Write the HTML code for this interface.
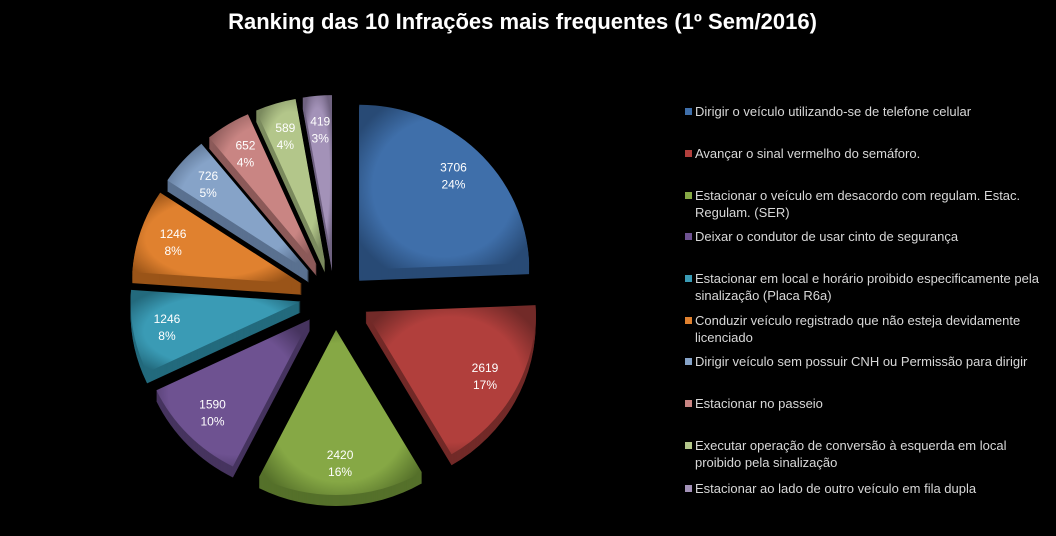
<!DOCTYPE html>
<html><head><meta charset="utf-8"><style>
body{margin:0;background:#000;width:1056px;height:536px;overflow:hidden;font-family:"Liberation Sans",sans-serif}
#title{position:absolute;left:0;width:1045px;top:9px;text-align:center;color:#fff;font-weight:bold;font-size:22px}
.leg{position:absolute;left:685px;width:360px;color:#d8d8d8;font-size:13px;line-height:17px}
.sw{position:absolute;left:0;top:5px;width:7px;height:7px}
.lt{margin-left:10px}
</style></head><body>
<div id="title">Ranking das 10 Infrações mais frequentes (1º Sem/2016)</div>
<svg id="pie" width="1056" height="536" style="position:absolute;left:0;top:0"></svg>
<div id="legend"></div>
<script>
const categories=["Dirigir o veículo utilizando-se de telefone celular","Avançar o sinal vermelho do semáforo.","Estacionar o veículo em desacordo com regulam. Estac. Regulam. (SER)","Deixar o condutor de usar cinto de segurança","Estacionar em local e horário proibido especificamente pela sinalização (Placa R6a)","Conduzir veículo registrado que não esteja devidamente licenciado","Dirigir veículo sem possuir CNH ou Permissão para dirigir","Estacionar no passeio","Executar operação de conversão à esquerda em local proibido pela sinalização","Estacionar ao lado de outro veículo em fila dupla"];
const values=[3706,2619,2420,1590,1246,1246,726,652,589,419];
const colors=["#3f6faa","#b13f3c","#86a845","#6e5291","#3a9bb5","#e0812f","#86a3c8","#c98583","#b3c68a","#a392b8"];
const dark=["#284a75","#722a28","#55702a","#46345f","#236a7d","#9a5418","#5a7190","#8c5a59","#7b8a5e","#6f6280"];
const legendY=[103,145,187,228,270,312,353,395,437,480];
const svg=document.getElementById('pie');
const NS='http://www.w3.org/2000/svg';
const cx=335,cy=295,rx=170,ry=165,ex=35,depth=11;
const total=values.reduce((a,b)=>a+b,0);
let defs=document.createElementNS(NS,'defs');svg.appendChild(defs);
colors.forEach((c,i)=>{
 const g=document.createElementNS(NS,'radialGradient');g.setAttribute('id','g'+i);
 g.setAttribute('cx','50%');g.setAttribute('cy','50%');g.setAttribute('r','60%');
 g.innerHTML=`<stop offset="0" stop-color="${c}"/><stop offset="0.7" stop-color="${c}"/><stop offset="1" stop-color="${dark[i]}"/>`;
 defs.appendChild(g);
});
function slicePath(ox,oy,a0,a1){
 const x0=ox+rx*Math.cos(a0),y0=oy+ry*Math.sin(a0),x1=ox+rx*Math.cos(a1),y1=oy+ry*Math.sin(a1);
 const large=(a1-a0)>Math.PI?1:0;
 return `M${ox},${oy}L${x0},${y0}A${rx},${ry} 0 ${large} 1 ${x1},${y1}Z`;
}
let ang=-Math.PI/2;
values.forEach((v,i)=>{
 const sweep=v/total*2*Math.PI,a0=ang,a1=ang+sweep,mid=(a0+a1)/2;ang=a1;
 const ox=cx+ex*Math.cos(mid),oy=cy+ex*Math.sin(mid);
 const grp=document.createElementNS(NS,'g');
 
 
 for(let d=depth;d>=1;d--){
  const p=document.createElementNS(NS,'path');
  p.setAttribute('d',slicePath(ox,oy+d,a0,a1));p.setAttribute('fill',dark[i]);
  grp.appendChild(p);
 }
 const top=document.createElementNS(NS,'path');
 top.setAttribute('d',slicePath(ox,oy,a0,a1));top.setAttribute('fill','url(#g'+i+')');
 grp.appendChild(top);
 const lx=ox+0.8*rx*Math.cos(mid),ly=oy+0.8*ry*Math.sin(mid);
 const t=document.createElementNS(NS,'text');
 
 
 t.setAttribute('x',lx);t.setAttribute('y',ly-3);t.setAttribute('fill','#fff');
 t.setAttribute('font-size','12');t.setAttribute('text-anchor','middle');
 t.setAttribute('font-family','Liberation Sans, sans-serif');
 t.innerHTML=`<tspan x="${lx}">${v}</tspan><tspan x="${lx}" dy="17">${Math.round(v/total*100)}%</tspan>`;
 grp.appendChild(t);
 svg.appendChild(grp);
});
const leg=document.getElementById('legend');
categories.forEach((c,i)=>{
 const d=document.createElement('div');d.className='leg';d.style.top=legendY[i]+'px';
 
 
 d.innerHTML=`<div class="sw" style="background:${colors[i]}"></div><div class="lt">${c}</div>`;
 leg.appendChild(d);
});
</script>
</body></html>
